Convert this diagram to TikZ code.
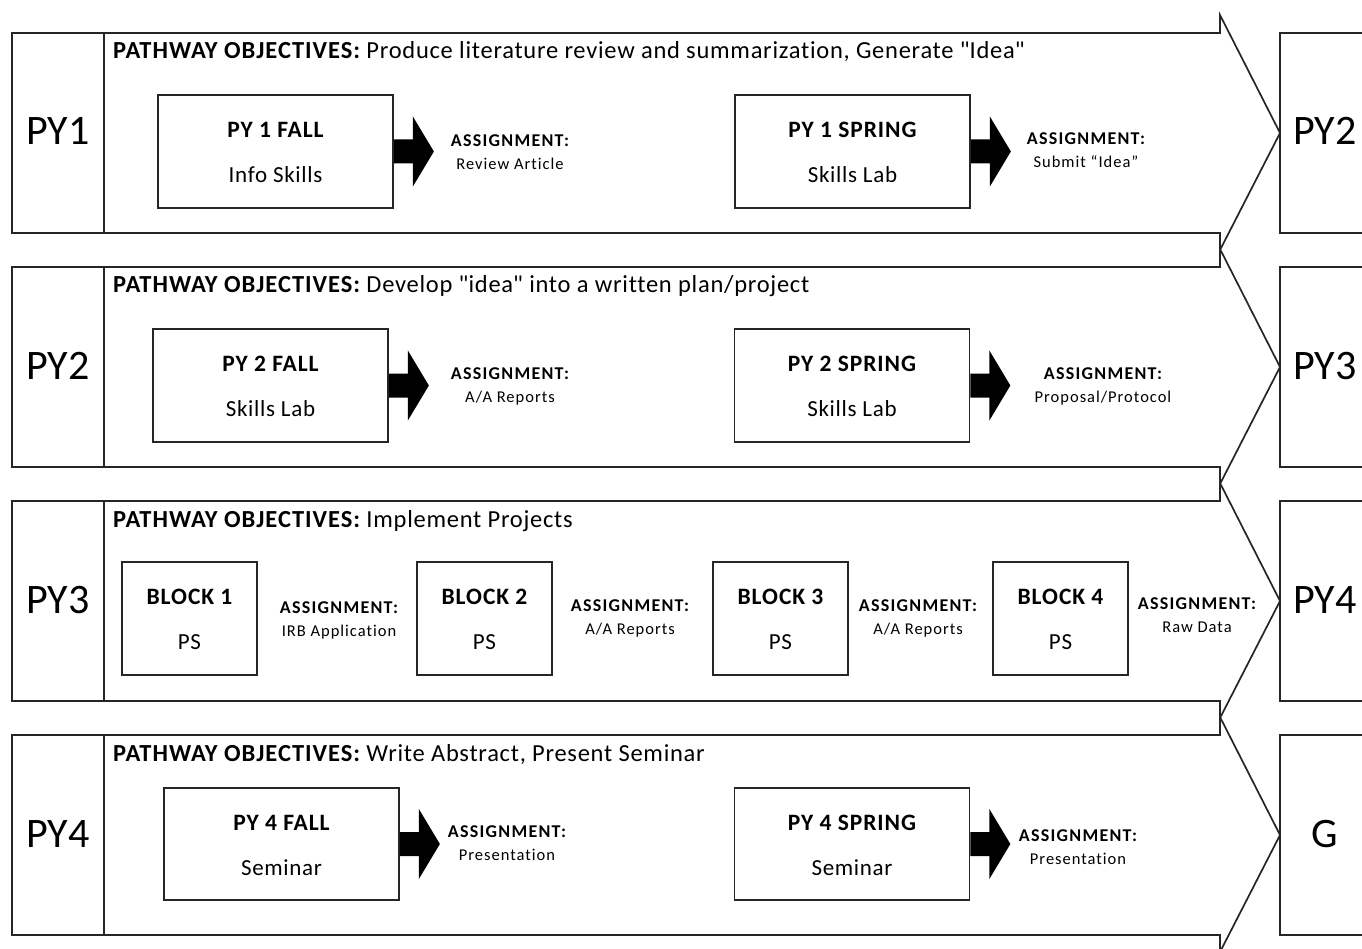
\documentclass[tikz,border=0pt]{standalone}
\usepackage{fontspec}
\setmainfont{Carlito}[Ligatures={TeX,NoCommon}]
\usetikzlibrary{calc}
\begin{document}
\begin{tikzpicture}[x=1pt,y=-1pt,
  ln/.style={draw=black!85, line width=1.7pt, line join=miter},
  cbox/.style={ln, rectangle, inner sep=0pt, minimum height=113pt},
  wbox/.style={cbox, minimum width=235pt},
  bbox/.style={cbox, minimum width=135pt},
  bigl/.style={font=\fontsize{42}{50}\selectfont, anchor=base, inner sep=0pt},
  objt/.style={font=\fontsize{24.5}{30}\selectfont\addfontfeatures{LetterSpace=3}, anchor=base west, inner sep=0pt},
  ttl/.style={font=\fontsize{23.5}{28}\selectfont\bfseries\addfontfeatures{LetterSpace=4}, anchor=base, inner sep=0pt},
  sub/.style={font=\fontsize{23}{28}\selectfont\addfontfeatures{LetterSpace=3}, anchor=base, inner sep=0pt},
  asgA/.style={font=\fontsize{18}{20}\selectfont\bfseries\addfontfeatures{LetterSpace=7}, anchor=base, inner sep=0pt},
  asgB/.style={font=\fontsize{16.5}{20}\selectfont\addfontfeatures{LetterSpace=6}, anchor=base, inner sep=0pt},
  blk/.style={fill=black}
]
\useasboundingbox (0,0) rectangle (1362,949);
\fill[white] (0,0) rectangle (1362,949);
\clip (0,0) rectangle (1362,949);

% rows
\foreach \i/\l/\r/\obj in {
 0/PY1/PY2/{Produce literature review and summarization, Generate \textquotedbl Idea\textquotedbl},
 1/PY2/PY3/{Develop \textquotedbl idea\textquotedbl\ into a written plan/project},
 2/PY3/PY4/{Implement Projects},
 3/PY4/G/{Write Abstract, Present Seminar}}
{
  \pgfmathsetmacro\T{33+234*\i}
  \draw[ln] (12,\T) -- (1220,\T) -- (1220,\T-18) -- (1280,\T+100) -- (1220,\T+217) -- (1220,\T+200) -- (12,\T+200) -- cycle;
  \draw[ln] (104,\T) -- (104,\T+200);
  \draw[ln] (1380,\T) -- (1280,\T) -- (1280,\T+200) -- (1380,\T+200);
  \node[bigl] (L\i) at (58,\T+112) {\l};
  \node[bigl] (R\i) at (1325,\T+112) {\r};
  \node[objt] (O\i) at (113,\T+26) {{\bfseries\addfontfeatures{LetterSpace=4}PATHWAY OBJECTIVES:} \obj};
}

% boxes with two text lines
\node[wbox] (f1) at (275.5,151.5) {};
\node[ttl] at ($(f1.center)+(0,-14)$) {PY 1 FALL};
\node[sub] at ($(f1.center)+(0,31)$) {Info Skills};
\node[wbox] (s1) at (852.5,151.5) {};
\node[ttl] at ($(s1.center)+(0,-14)$) {PY 1 SPRING};
\node[sub] at ($(s1.center)+(0,31)$) {Skills Lab};

\node[wbox] (f2) at (270.5,385.5) {};
\node[ttl] at ($(f2.center)+(0,-14)$) {PY 2 FALL};
\node[sub] at ($(f2.center)+(0,31)$) {Skills Lab};
\node[wbox] (s2) at (852,385.5) {};
\node[ttl] at ($(s2.center)+(0,-14)$) {PY 2 SPRING};
\node[sub] at ($(s2.center)+(0,31)$) {Skills Lab};

\node[bbox] (b1) at (189.5,618.5) {};
\node[ttl] at ($(b1.center)+(0,-14)$) {BLOCK 1};
\node[sub] at ($(b1.center)+(0,31)$) {PS};
\node[bbox] (b2) at (484.5,618.5) {};
\node[ttl] at ($(b2.center)+(0,-14)$) {BLOCK 2};
\node[sub] at ($(b2.center)+(0,31)$) {PS};
\node[bbox] (b3) at (780.5,618.5) {};
\node[ttl] at ($(b3.center)+(0,-14)$) {BLOCK 3};
\node[sub] at ($(b3.center)+(0,31)$) {PS};
\node[bbox] (b4) at (1060.5,618.5) {};
\node[ttl] at ($(b4.center)+(0,-14)$) {BLOCK 4};
\node[sub] at ($(b4.center)+(0,31)$) {PS};

\node[wbox, minimum height=112pt] (f4) at (281.5,844) {};
\node[ttl] at ($(f4.center)+(0,-14)$) {PY 4 FALL};
\node[sub] at ($(f4.center)+(0,31)$) {Seminar};
\node[wbox, minimum height=112pt] (s4) at (852,844) {};
\node[ttl] at ($(s4.center)+(0,-14)$) {PY 4 SPRING};
\node[sub] at ($(s4.center)+(0,31)$) {Seminar};

% block arrows
\foreach \b in {f1,s1,f2,s2,f4,s4}{
  \fill[blk] ($(\b.east)+(0,-12)$) -- ++(19,0) -- ++(0,-23) -- ++(21,35) -- ++(-21,35) -- ++(0,-23) -- ++(-19,0) -- cycle;
}

% assignments
\foreach \n/\x/\y/\t in {
  a1/510/147/{Review Article},
  a2/1086/145/{Submit “Idea”},
  a3/510/379/{A/A Reports},
  a4/1103/379/{Proposal/Protocol},
  a5/339/613/{IRB Application},
  a6/630/611/{A/A Reports},
  a7/918/611/{A/A Reports},
  a8/1197/609/{Raw Data},
  a9/507/837/{Presentation},
  a10/1078/841/{Presentation}}
{
  \node[asgA] (\n) at (\x,\y) {ASSIGNMENT:};
  \node[asgB] (\n t) at (\x,\y+23) {\t};
}
\end{tikzpicture}
\end{document}
